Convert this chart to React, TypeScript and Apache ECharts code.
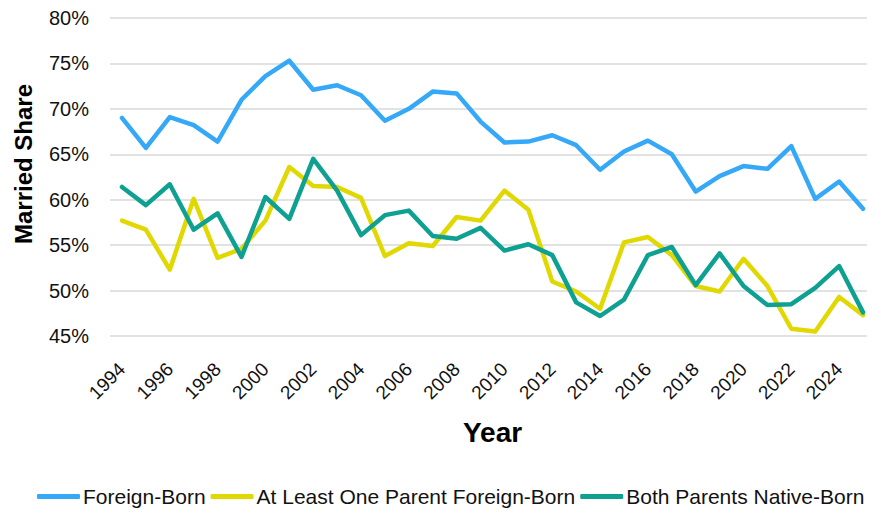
import React, { useEffect, useRef } from "react";
import * as echarts from "echarts";

const years = [
  "1994","1995","1996","1997","1998","1999","2000","2001","2002","2003",
  "2004","2005","2006","2007","2008","2009","2010","2011","2012","2013",
  "2014","2015","2016","2017","2018","2019","2020","2021","2022","2023",
  "2024","2025",
];

const foreignBorn = [
  69.0, 65.7, 69.1, 68.2, 66.4, 71.0, 73.6, 75.3, 72.1, 72.6,
  71.5, 68.7, 70.0, 71.9, 71.7, 68.6, 66.3, 66.4, 67.1, 66.0,
  63.3, 65.3, 66.5, 65.0, 60.9, 62.6, 63.7, 63.4, 65.9, 60.1,
  62.0, 59.0,
];

const oneParentForeign = [
  57.7, 56.7, 52.3, 60.1, 53.6, 54.6, 57.7, 63.6, 61.5, 61.4,
  60.2, 53.8, 55.2, 54.9, 58.1, 57.7, 61.0, 58.9, 51.0, 49.9,
  48.0, 55.3, 55.9, 53.9, 50.5, 49.9, 53.5, 50.5, 45.8, 45.5,
  49.3, 47.3,
];

const bothNative = [
  61.4, 59.4, 61.7, 56.7, 58.5, 53.7, 60.3, 57.9, 64.5, 61.0,
  56.1, 58.3, 58.8, 56.0, 55.7, 56.9, 54.4, 55.1, 53.9, 48.7,
  47.2, 49.0, 53.9, 54.8, 50.6, 54.1, 50.5, 48.4, 48.5, 50.3,
  52.7, 47.6,
];

const seriesNames = [
  "Foreign-Born",
  "At Least One Parent Foreign-Born",
  "Both Parents Native-Born",
];
const colors = ["#35a9f7", "#e0d800", "#0ea192"];

const FONT = "'Liberation Sans', Arial, sans-serif";

export default function App() {
  const ref = useRef<HTMLDivElement>(null);
  useEffect(() => {
    if (!ref.current) return;
    const chart = echarts.init(ref.current, undefined, { renderer: "svg" });
    const datasets = [foreignBorn, oneParentForeign, bothNative];
    chart.setOption({
      animation: false,
      textStyle: { fontFamily: FONT },
      grid: { left: 110, right: -8, top: 18, bottom: 182, containLabel: false },
      legend: {
        top: 481,
        left: 32,
        icon: "roundRect",
        itemWidth: 43,
        itemHeight: 5,
        itemGap: 5,
        textStyle: { fontSize: 21, color: "#111", fontFamily: FONT, padding: [0, 0, 0, -2] },
        data: seriesNames,
      },
      graphic: [
        {
          type: "text",
          x: 23,
          y: 164,
          rotation: Math.PI / 2,
          style: {
            text: "Married Share",
            fontSize: 24,
            fontWeight: "bold",
            fontFamily: FONT,
            fill: "#000",
            textAlign: "center",
            textVerticalAlign: "middle",
          },
        },
      ],
      xAxis: {
        type: "category",
        data: years,
        boundaryGap: true,
        axisLine: { show: false },
        axisTick: { show: false },
        axisLabel: {
          interval: 1,
          rotate: 45,
          fontSize: 19,
          color: "#111",
          margin: 30,
          fontFamily: FONT,
        },
        name: "Year",
        nameLocation: "middle",
        nameGap: 82,
        nameTextStyle: { fontSize: 28, fontWeight: "bold", color: "#000", fontFamily: FONT },
      },
      yAxis: {
        type: "value",
        min: 45,
        max: 80,
        interval: 5,
        axisLine: { show: false },
        axisTick: { show: false },
        splitLine: { lineStyle: { color: "#d9d9d9", width: 1.5 } },
        axisLabel: {
          formatter: "{value}%",
          fontSize: 20,
          color: "#111",
          margin: 21,
          fontFamily: FONT,
        },
      },
      series: seriesNames.map((n, i) => ({
        name: n,
        type: "line",
        data: datasets[i],
        showSymbol: false,
        symbol: "none",
        color: colors[i],
        lineStyle: { width: 4.5, color: colors[i], cap: "round", join: "round" },
      })),
    });
    return () => chart.dispose();
  }, []);
  return <div ref={ref} style={{ width: 875, height: 518, margin: -8 }} />;
}
